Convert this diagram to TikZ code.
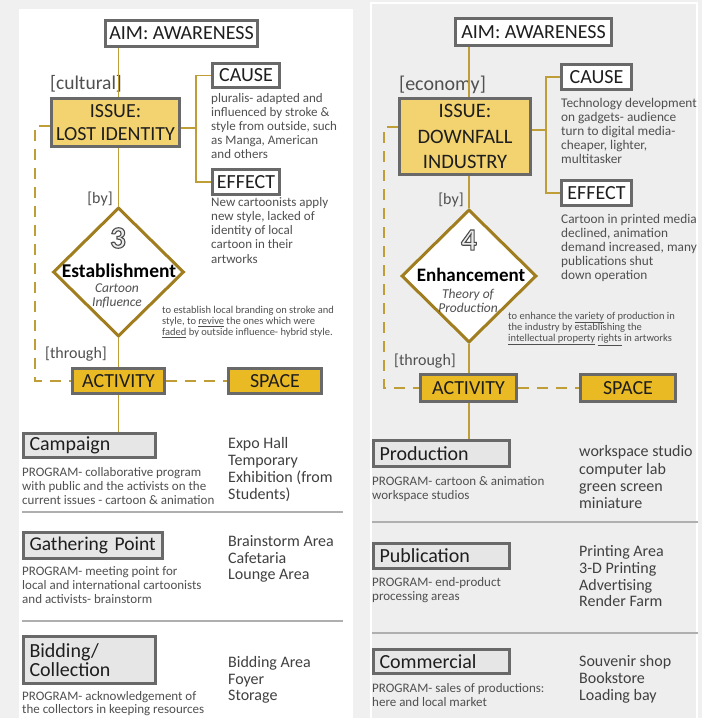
\documentclass[tikz,border=0pt]{standalone}
\usepackage{fontspec}
\setmainfont{Carlito}
\usetikzlibrary{shapes.geometric}
\definecolor{bg}{RGB}{240,240,240}
\definecolor{panelR}{RGB}{238,238,238}
\definecolor{gold}{RGB}{192,158,55}
\definecolor{diagold}{RGB}{160,126,32}
\definecolor{issuefill}{RGB}{243,211,112}
\definecolor{actfill}{RGB}{234,186,36}
\definecolor{boxgrey}{RGB}{105,105,105}
\definecolor{progfill}{RGB}{230,230,230}
\definecolor{txt}{RGB}{30,30,30}
\definecolor{txtgrey}{RGB}{80,80,80}
\definecolor{sepgrey}{RGB}{175,175,175}
\definecolor{numface}{RGB}{235,235,235}
\newcommand{\outlinedigit}[1]{\color{numface}\special{pdf:literal direct 2 Tr 1.1 w 0.3 0.3 0.3 RG}#1\special{pdf:literal direct 0 Tr}}
\begin{document}
\begin{tikzpicture}[x=1pt,y=-1pt,
  box/.style={draw=boxgrey, line width=3pt, inner sep=0pt, text=txt, font=\fontsize{20}{22}\selectfont},
  wbox/.style={box, fill=white},
  issuebox/.style={box, fill=issuefill, align=center},
  actbox/.style={box, fill=actfill},
  progbox/.style={box, fill=progfill, align=left, inner xsep=6pt},
  dia/.style={diamond, draw=diagold, line width=3pt, fill=white, inner sep=0pt},
  gline/.style={draw=gold, line width=1.6pt},
  dline/.style={draw=gold, line width=1.6pt, dash pattern=on 11pt off 8pt},
  seprule/.style={draw=sepgrey, line width=1.5pt},
  lbl/.style={inner sep=0pt, text=txtgrey, font=\fontsize{16}{16}\selectfont},
  biglbl/.style={inner sep=0pt, text=txtgrey, font=\fontsize{19.5}{20}\selectfont},
  ctext/.style={inner sep=0pt, anchor=north west, align=left, text=txtgrey, font=\fontsize{13}{14}\selectfont},
  desc/.style={inner sep=0pt, anchor=north west, align=left, text=txtgrey, font=\fontsize{10.5}{11}\selectfont},
  progtext/.style={inner sep=0pt, anchor=north west, align=left, text=txtgrey, font=\fontsize{13}{14}\selectfont},
  listtext/.style={inner sep=0pt, anchor=north west, align=left, text=txt!85, font=\fontsize{16}{17}\selectfont},
  numeral/.style={inner sep=0pt, font=\fontsize{31}{31}\selectfont\bfseries},
  diatitle/.style={inner sep=0pt, text=black, font=\fontsize{19.5}{20}\selectfont\bfseries},
  diasub/.style={inner sep=0pt, align=center, text=txtgrey, font=\fontsize{13.5}{14}\selectfont\itshape}
]
\useasboundingbox (0,0) rectangle (702,718);
\fill[bg] (0,0) rectangle (702,718);
\fill[white] (19,9) rectangle (353,718);
\filldraw[fill=panelR, draw=white, line width=1.5pt] (371,3) rectangle (697,720);

% ================= LEFT PANEL =================
\node[wbox, minimum width=152, minimum height=26] (aimL) at (181.5,33.5) {AIM: AWARENESS};
\node[biglbl] (culL) at (86,84) {[cultural]};
\node[issuebox, minimum width=128, minimum height=48, font=\fontsize{20}{23}\selectfont] (issueL) at (115.5,122.5) {ISSUE:\\LOST IDENTITY};
\node[wbox, minimum width=67, minimum height=24] (causeL) at (246,75.5) {CAUSE};
\node[wbox, minimum width=67, minimum height=25] (effectL) at (246,182) {EFFECT};
\node[ctext] (causeTL) at (211,93) {pluralis- adapted and\\influenced by stroke \&\\style from outside, such\\as Manga, American\\and others};
\node[ctext, font=\fontsize{13}{14.2}\selectfont] (effectTL) at (211,197) {New cartoonists apply\\new style, lacked of\\identity of local\\cartoon in their\\artworks};
\node[lbl] (byL) at (100,199) {[by]};
\node[dia, minimum width=131, minimum height=129] (diaL) at (118.5,272) {};
\node[numeral] (numL) at (118,238) {\outlinedigit{3}};
\node[diatitle] (estL) at (119,271) {Establishment};
\node[diasub] (subL) at (117,296) {Cartoon\\Influence};
\node[desc] (descL) at (162,306) {to establish local branding on stroke and\\style, to \underline{revive} the ones which were\\\underline{faded} by outside influence- hybrid style.};
\node[lbl] (thrL) at (76,354) {[through]};
\node[actbox, minimum width=92, minimum height=25] (actL) at (118.5,381) {ACTIVITY};
\node[actbox, minimum width=93, minimum height=25] (spaceL) at (275,381) {SPACE};

\coordinate (brL) at (196,128);
\coordinate (dL) at (35,126);
\draw[gline] (aimL.south -| diaL.north) -- (issueL.north -| diaL.north);
\draw[gline] (issueL.east |- brL) -- (brL);
\draw[gline] (causeL.west) -| (brL) |- (effectL.west);
\draw[gline] (issueL.south -| diaL.north) -- (diaL.north);
\draw[gline] (diaL.south) -- (actL.north -| diaL.south);
\draw[dline] (issueL.west |- dL) -- (dL) |- (actL.west);
\draw[dline] (actL.east) -- (spaceL.west);

\node[progbox, text width=120, minimum height=24] (campL) at (89.5,445.5) {Campaign};
\draw[gline] (actL.south -| diaL.south) -- (campL.north -| diaL.south);
\node[progtext] (campPL) at (22,467) {PROGRAM- collaborative program\\with public and the activists on the\\current issues - cartoon \& animation};
\node[listtext] (campSL) at (228,437.5) {Expo Hall\\Temporary\\Exhibition (from\\Students)};
\draw[seprule] (22,512) -- (343,512);
\node[progbox, text width=127, minimum height=26, font=\fontsize{19.5}{22}\selectfont] (gathL) at (93,545.5) {Gathering Point};
\node[progtext] (gathPL) at (22,566) {PROGRAM- meeting point for\\local and international cartoonists\\and activists- brainstorm};
\node[listtext, font=\fontsize{16}{16.5}\selectfont] (gathSL) at (228,535.5) {Brainstorm Area\\Cafetaria\\Lounge Area};
\draw[seprule] (22,621) -- (343,621);
\node[progbox, text width=120, minimum height=47, font=\fontsize{20}{19.5}\selectfont] (bidL) at (89.5,660) {Bidding/\\Collection};
\node[progtext, font=\fontsize{13}{13.5}\selectfont] (bidPL) at (22,691) {PROGRAM- acknowledgement of\\the collectors in keeping resources};
\node[listtext, font=\fontsize{16}{16.5}\selectfont] (bidSL) at (228,656.5) {Bidding Area\\Foyer\\Storage};

% ================= RIGHT PANEL =================
\node[wbox, minimum width=156, minimum height=27] (aimR) at (533.5,32) {AIM: AWARENESS};
\node[biglbl, font=\fontsize{20}{20}\selectfont] (ecoR) at (442.5,85) {[economy]};
\node[issuebox, minimum width=131, minimum height=76, font=\fontsize{20.5}{25.5}\selectfont] (issueR) at (465,136.5) {ISSUE:\\DOWNFALL\\INDUSTRY};
\node[wbox, minimum width=70, minimum height=25] (causeR) at (596.5,77) {CAUSE};
\node[wbox, minimum width=70, minimum height=25] (effectR) at (596.5,193) {EFFECT};
\node[ctext, font=\fontsize{13.3}{14}\selectfont] (causeTR) at (561,98) {Technology development\\on gadgets- audience\\turn to digital media-\\cheaper, lighter,\\multitasker};
\node[ctext, font=\fontsize{13.3}{14}\selectfont] (effectTR) at (561,214) {Cartoon in printed media\\declined, animation\\demand increased, many\\publications shut\\down operation};
\node[lbl] (byR) at (451,200) {[by]};
\node[dia, minimum width=135, minimum height=133] (diaR) at (469,276) {};
\node[numeral] (numR) at (469,240) {\outlinedigit{4}};
\node[diatitle, font=\fontsize{19}{20}\selectfont\bfseries] (enhR) at (471,275) {Enhancement};
\node[diasub] (subR) at (468,301) {Theory of\\Production};
\node[desc] (descR) at (508,312) {to enhance the \underline{variety} of production in\\the industry by establishing the\\\underline{intellectual property} \underline{rights} in artworks};
\node[lbl] (thrR) at (425,361) {[through]};
\node[actbox, minimum width=96, minimum height=27] (actR) at (468.5,388) {ACTIVITY};
\node[actbox, minimum width=95, minimum height=27] (spaceR) at (628,388) {SPACE};

\coordinate (brR) at (546,130);
\coordinate (dR) at (384,127);
\draw[gline] (aimR.south -| diaR.north) -- (issueR.north -| diaR.north);
\draw[gline] (issueR.east |- brR) -- (brR);
\draw[gline] (causeR.west) -| (brR) |- (effectR.west);
\draw[gline] (issueR.south -| diaR.north) -- (diaR.north);
\draw[gline] (diaR.south) -- (actR.north -| diaR.south);
\draw[dline] (issueR.west |- dR) -- (dR) |- (actR.west);
\draw[dline] (actR.east) -- (spaceR.west);

\node[progbox, text width=124, minimum height=26] (prodR) at (441.5,453.5) {Production};
\draw[gline] (actR.south -| diaR.south) -- (prodR.north -| diaR.south);
\node[progtext] (prodPR) at (372,476) {PROGRAM- cartoon \& animation\\workspace studios};
\node[listtext, font=\fontsize{16}{17.3}\selectfont] (prodSR) at (579,445.5) {workspace studio\\computer lab\\green screen\\miniature};
\draw[seprule] (372,522) -- (698,522);
\node[progbox, text width=124, minimum height=25] (pubR) at (441.5,556) {Publication};
\node[progtext] (pubPR) at (372,577) {PROGRAM- end-product\\processing areas};
\node[listtext, font=\fontsize{16}{16.7}\selectfont] (pubSR) at (579,545.5) {Printing Area\\3-D Printing\\Advertising\\Render Farm};
\draw[seprule] (372,633) -- (698,633);
\node[progbox, text width=124, minimum height=24] (comR) at (441.5,661.5) {Commercial};
\node[progtext] (comPR) at (372,683) {PROGRAM- sales of productions:\\here and local market};
\node[listtext, font=\fontsize{16}{17}\selectfont] (comSR) at (579,655.5) {Souvenir shop\\Bookstore\\Loading bay};
\end{tikzpicture}
\end{document}
